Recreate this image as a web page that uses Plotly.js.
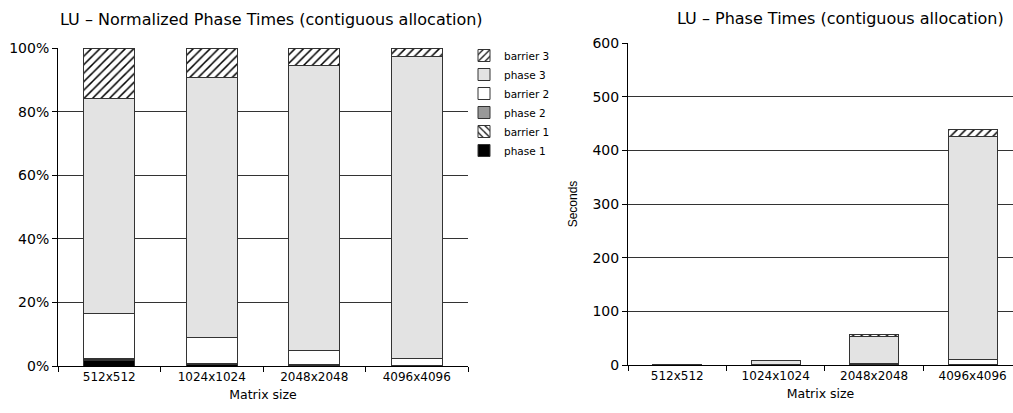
<!DOCTYPE html>
<html><head><meta charset="utf-8">
<script src="https://cdn.plot.ly/plotly-3.0.1.min.js"></script>
<style>html,body{margin:0;padding:0;background:#fff}#chart{width:1013px;height:413px}</style>
</head><body><div id="chart"></div>
<script>
const categories = ["512x512", "1024x1024", "2048x2048", "4096x4096"];
// Normalized (fraction of total)
const normPhase1   = [0.016, 0.006, 0.003, 0.002];
const normBarrier1 = [0.003, 0.001, 0.0005, 0.0003];
const normPhase2   = [0.006, 0.002, 0.001, 0.0007];
const normBarrier2 = [0.139, 0.081, 0.044, 0.022];
const normPhase3   = [0.676, 0.816, 0.897, 0.947];
const normBarrier3 = [0.160, 0.094, 0.0545, 0.028];
// Absolute times (seconds)
const secPhase1   = [0.02, 0.05, 0.17, 0.9];
const secBarrier1 = [0.003, 0.01, 0.03, 0.13];
const secPhase2   = [0.007, 0.02, 0.06, 0.3];
const secBarrier2 = [0.17, 0.72, 2.5, 9.7];
const secPhase3   = [0.8, 7.2, 51, 415];
const secBarrier3 = [0.2, 0.83, 3.1, 12.3];
const seriesNames = ["phase 1", "barrier 1", "phase 2", "barrier 2", "phase 3", "barrier 3"];

const styles = [
  {color: "#000000"},
  {color: "#ffffff", pattern: {shape: "\\", fgcolor: "#000", bgcolor: "#fff", size: 6, solidity: 0.25}},
  {color: "#999999"},
  {color: "#ffffff"},
  {color: "#e3e3e3"},
  {color: "#ffffff", pattern: {shape: "/", fgcolor: "#000", bgcolor: "#fff", size: 6, solidity: 0.25}}
];
const normData = [normPhase1, normBarrier1, normPhase2, normBarrier2, normPhase3, normBarrier3];
const secData = [secPhase1, secBarrier1, secPhase2, secBarrier2, secPhase3, secBarrier3];

const traces = [];
seriesNames.forEach((n, i) => {
  const m = Object.assign({line: {color: "#333", width: 1}}, styles[i]);
  traces.push({type: "bar", name: n, x: categories, y: normData[i], marker: m,
    width: 0.5, xaxis: "x", yaxis: "y", showlegend: true, hoverinfo: "skip"});
});
seriesNames.forEach((n, i) => {
  const m = Object.assign({line: {color: "#333", width: 1}}, styles[i]);
  traces.push({type: "bar", name: n, x: categories, y: secData[i], marker: m,
    width: 0.5, xaxis: "x2", yaxis: "y2", showlegend: false, hoverinfo: "skip"});
});

const W = 1013, H = 413;
const px = v => v / W, py = v => (H - v) / H;
const FONT = "DejaVu Sans";
const FONT2 = "Liberation Sans";

const axisX = {
  type: "category", tickson: "boundaries", ticks: "outside", ticklen: 5, tickcolor: "#000",
  showline: true, linecolor: "#000", linewidth: 1, showgrid: false, zeroline: false,
  tickfont: {size: 12, color: "#000", family: FONT},
  title: {text: "Matrix size", font: {size: 12.5, color: "#000", family: FONT}, standoff: 6}
};

const layout = {
  width: W, height: H, margin: {l: 0, r: 0, t: 0, b: 0},
  paper_bgcolor: "#fff", plot_bgcolor: "#fff",
  barmode: "stack", font: {family: FONT, color: "#000"},
  xaxis: Object.assign({}, axisX, {domain: [px(58), px(468)], range: [-0.5, 3.5], anchor: "y"}),
  yaxis: {domain: [py(366), py(48)], range: [0, 1], dtick: 0.2, tickformat: ".0%",
    ticks: "outside", ticklen: 5, tickcolor: "#000", showline: true, linecolor: "#000", linewidth: 1,
    showgrid: true, gridcolor: "#333", gridwidth: 1, zeroline: false,
    tickfont: {size: 14, color: "#000", family: FONT}, anchor: "x"},
  xaxis2: Object.assign({}, axisX, {domain: [px(628), 1], range: [-0.5, 3.41], anchor: "y2"}),
  yaxis2: {domain: [py(365), py(43)], range: [0, 600], dtick: 100,
    ticks: "outside", ticklen: 5, tickcolor: "#000", showline: true, linecolor: "#000", linewidth: 1,
    showgrid: true, gridcolor: "#333", gridwidth: 1, zeroline: false,
    tickfont: {size: 14, color: "#000", family: FONT}, anchor: "x2",
    title: {text: "Seconds", font: {size: 12, color: "#000", family: FONT2}, standoff: 12}},
  legend: {x: px(464), y: py(41), xanchor: "left", yanchor: "top", traceorder: "reversed",
    font: {size: 10.5, color: "#000000", family: FONT}, bgcolor: "rgba(0,0,0,0)", borderwidth: 0,
    itemwidth: 30, tracegroupgap: 0},
  annotations: [
    {text: "LU – Normalized Phase Times (contiguous allocation)", xref: "paper", yref: "paper",
     x: px(271), y: py(20), xanchor: "center", yanchor: "middle", showarrow: false,
     font: {size: 16, color: "#000", family: FONT}},
    {text: "LU – Phase Times (contiguous allocation)", xref: "paper", yref: "paper",
     x: px(840), y: py(18), xanchor: "center", yanchor: "middle", showarrow: false,
     font: {size: 16, color: "#000", family: FONT}}
  ],
  showlegend: true
};

Plotly.newPlot("chart", traces, layout, {staticPlot: true, displayModeBar: false});
</script></body></html>
